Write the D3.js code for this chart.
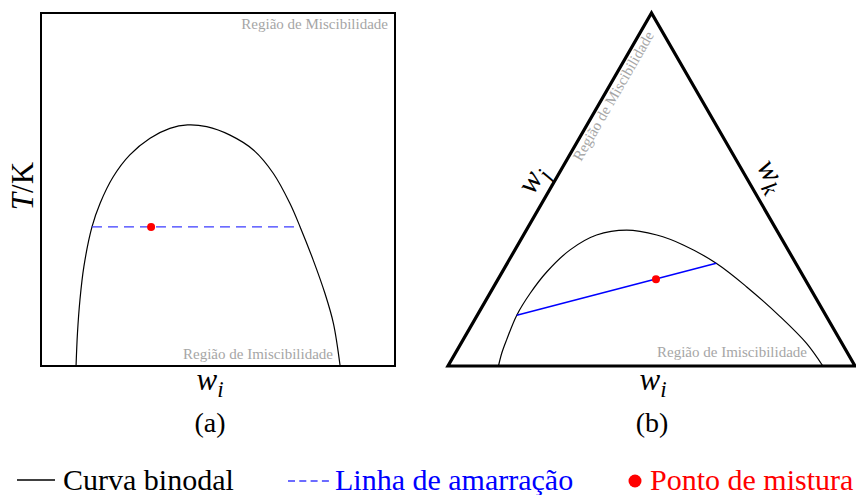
<!DOCTYPE html>
<html><head><meta charset="utf-8">
<script src="https://cdn.jsdelivr.net/npm/d3@7"></script>
<style>body{margin:0;background:#fff}svg{display:block}</style>
</head><body>
<script>
// Panel (a): binodal curve T vs w_i (normalized units)
const binA_w = [0.099,0.103,0.110,0.121,0.144,0.167,0.204,0.251,0.308,0.364,0.414,0.468,0.534,0.600,0.656,0.703,0.732,0.769,0.802,0.826,0.845];
const binA_T = [0.000,0.093,0.187,0.281,0.394,0.461,0.536,0.598,0.645,0.673,0.683,0.678,0.654,0.612,0.546,0.461,0.394,0.300,0.206,0.121,0.000];
const tieA_w = [0.144,0.732];
const tieA_T = [0.394,0.394];
const mixA = [0.311,0.394];

// Panel (b): ternary diagram (position along base, height fraction)
const binB_x = [0.124,0.132,0.144,0.169,0.202,0.243,0.300,0.365,0.439,0.513,0.578,0.659,0.734,0.816,0.881,0.921];
const binB_y = [0.000,0.036,0.074,0.144,0.206,0.267,0.329,0.371,0.385,0.371,0.343,0.291,0.224,0.140,0.064,0.000];
const tieB_x = [0.169,0.659];
const tieB_y = [0.144,0.291];
const mixB = [0.511,0.246];

const legendLabels = ["Curva binodal","Linha de amarração","Ponto de mistura"];
const regionLabels = ["Região de Miscibilidade","Região de Imiscibilidade"];

const W=856,H=495;
const FONT="'Liberation Serif','Times New Roman','DejaVu Serif',serif";
const svg=d3.select("body").append("svg").attr("width",W).attr("height",H).attr("font-family",FONT);
const gray="#a6a6a6";

// ---------- Panel (a)
const xa=d3.scaleLinear().domain([0,1]).range([41,395]);
const ya=d3.scaleLinear().domain([0,1]).range([366,13]);
const gA=svg.append("g");
gA.append("rect").attr("x",xa(0)).attr("y",ya(1)).attr("width",xa(1)-xa(0)).attr("height",ya(0)-ya(1))
  .attr("fill","none").attr("stroke","#000").attr("stroke-width",2);
const lineA=d3.line().x(d=>xa(d[0])).y(d=>ya(d[1])).curve(d3.curveCatmullRom.alpha(0.5));
gA.append("path").datum(binA_w.map((w,i)=>[w,binA_T[i]])).attr("d",lineA)
  .attr("fill","none").attr("stroke","#000").attr("stroke-width",1.2);
gA.append("line").attr("x1",xa(tieA_w[0])).attr("x2",xa(tieA_w[1])).attr("y1",ya(tieA_T[0])).attr("y2",ya(tieA_T[1]))
  .attr("stroke","#3b3bff").attr("stroke-width",1.3).attr("stroke-dasharray","10,6");
gA.append("circle").attr("cx",xa(mixA[0])).attr("cy",ya(mixA[1])).attr("r",4).attr("fill","#ff0000");
gA.append("text").attr("x",388).attr("y",29).attr("text-anchor","end").attr("font-size",15).attr("fill",gray).text(regionLabels[0]);
gA.append("text").attr("x",333).attr("y",359).attr("text-anchor","end").attr("font-size",15).attr("fill",gray).text(regionLabels[1]);
// axis labels
const tk=gA.append("text").attr("transform","translate(33,186) rotate(-90)").attr("text-anchor","middle").attr("font-size",31);
tk.append("tspan").attr("font-style","italic").text("T");
tk.append("tspan").text("/K");
function wlabel(g,x,y,sub,rot){
  const t=g.append("text").attr("transform",`translate(${x},${y}) rotate(${rot||0})`).attr("text-anchor","middle").attr("font-size",31).attr("font-style","italic");
  t.append("tspan").text("w");
  t.append("tspan").attr("font-size",23).attr("dy",7).text(sub);
  return t;
}
wlabel(gA,210,390,"i");
gA.append("text").attr("x",210).attr("y",432).attr("text-anchor","middle").attr("font-size",28).text("(a)");

// ---------- Panel (b)
const xb=d3.scaleLinear().domain([0,1]).range([448,855]);
const yb=d3.scaleLinear().domain([0,1]).range([366,13]);
const gB=svg.append("g");
gB.append("path").datum([[0,0],[1,0],[0.5,1]]).attr("d",d=>d3.line().x(p=>xb(p[0])).y(p=>yb(p[1]))(d)+"Z")
  .attr("fill","none").attr("stroke","#000").attr("stroke-width",3.2).attr("stroke-linejoin","miter");
const lineB=d3.line().x(d=>xb(d[0])).y(d=>yb(d[1])).curve(d3.curveCatmullRom.alpha(0.5));
gB.append("path").datum(binB_x.map((x,i)=>[x,binB_y[i]])).attr("d",lineB)
  .attr("fill","none").attr("stroke","#000").attr("stroke-width",1.2);
gB.append("line").attr("x1",xb(tieB_x[0])).attr("x2",xb(tieB_x[1])).attr("y1",yb(tieB_y[0])).attr("y2",yb(tieB_y[1]))
  .attr("stroke","#0000ff").attr("stroke-width",1.5);
gB.append("circle").attr("cx",xb(mixB[0])).attr("cy",yb(mixB[1])).attr("r",4).attr("fill","#ff0000");
gB.append("text").attr("transform","translate(581,162) rotate(-60)").attr("font-size",15).attr("fill",gray).text(regionLabels[0]);
gB.append("text").attr("x",807).attr("y",357).attr("text-anchor","end").attr("font-size",15).attr("fill",gray).text(regionLabels[1]);
wlabel(gB,540,184,"j",-60);
wlabel(gB,764,180,"k",60);
wlabel(gB,653,390,"i");
gB.append("text").attr("x",652).attr("y",432).attr("text-anchor","middle").attr("font-size",28).text("(b)");

// ---------- Legend
const lg=svg.append("g");
lg.append("line").attr("x1",17).attr("x2",55).attr("y1",480).attr("y2",480).attr("stroke","#000").attr("stroke-width",1.5);
lg.append("text").attr("x",63).attr("y",490).attr("font-size",30).attr("fill","#000").text(legendLabels[0]);
lg.append("line").attr("x1",288).attr("x2",329).attr("y1",481).attr("y2",481).attr("stroke","#3b3bff").attr("stroke-width",1.5).attr("stroke-dasharray","7,4.3");
lg.append("text").attr("x",335).attr("y",490).attr("font-size",30).attr("fill","#0000ff").text(legendLabels[1]);
lg.append("circle").attr("cx",635).attr("cy",481).attr("r",6.5).attr("fill","#ff0000");
lg.append("text").attr("x",650).attr("y",490).attr("font-size",30).attr("fill","#ff0000").text(legendLabels[2]);
</script>
</body></html>
